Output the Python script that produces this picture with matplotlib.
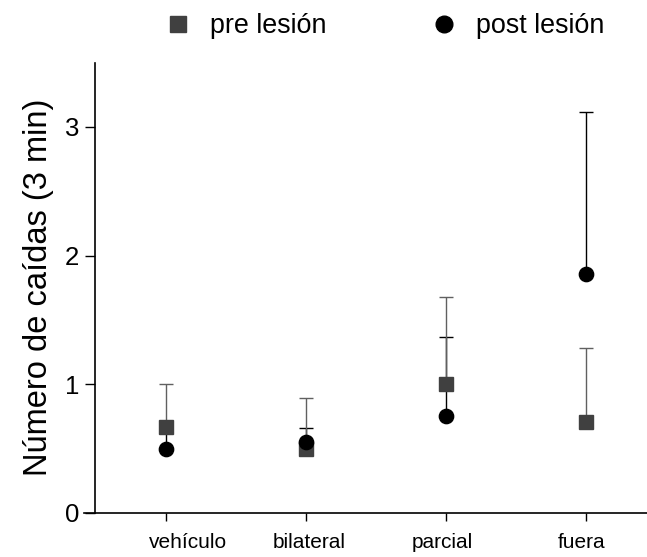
import numpy as np
import matplotlib
matplotlib.use("Agg")
import matplotlib.pyplot as plt
from matplotlib.lines import Line2D

plt.rcParams['font.family'] = ['Liberation Sans', 'DejaVu Sans']

grupos = ["vehículo", "bilateral", "parcial", "fuera"]
pre_media = [0.67, 0.50, 1.00, 0.71]
pre_sup = [1.00, 0.89, 1.68, 1.28]      # upper end of error bar
post_media = [0.50, 0.55, 0.75, 1.86]
post_sup = [0.67, 0.66, 1.37, 3.12]

x = np.arange(len(grupos))
pre_err = np.array(pre_sup) - np.array(pre_media)
post_err = np.array(post_sup) - np.array(post_media)

fig = plt.figure(figsize=(6.47, 5.57), dpi=100)
ax = fig.add_axes([84 / 647, 44 / 557, 563 / 647, 450.4 / 557])

# post bars first so the pre squares cover their caps
ax.errorbar(x, post_media, yerr=[np.zeros(4), post_err], fmt='none',
            ecolor='black', elinewidth=1, capsize=5, capthick=1, zorder=2)
ax.errorbar(x, pre_media, yerr=[np.zeros(4), pre_err], fmt='s', color='#404040',
            ecolor='#606060', elinewidth=1, capsize=5, capthick=1,
            markersize=9.4, zorder=3)
ax.plot(x, post_media, 'o', color='black', markersize=10.3, zorder=4)

ax.set_xlim(-0.586, 3.436)
ax.set_ylim(0, 3.5)
ax.set_yticks([0, 1, 2, 3])
ax.set_xticks(x)
ax.set_xticklabels([])
# labels in the original are not exactly centred under the ticks
shifts = [16, 2, -3, -3]
for xi, nombre, dx in zip(x, grupos, shifts):
    ax.annotate(nombre, xy=(xi, 0), xycoords=('data', 'axes fraction'),
                xytext=(dx, -14.5), textcoords='offset points',
                ha='center', va='top', fontsize=15)
ax.tick_params(axis='y', labelsize=18.5, length=7.2, width=1, pad=4)
ax.tick_params(axis='x', length=6, width=1)

ax.spines['top'].set_visible(False)
ax.spines['right'].set_visible(False)
ax.spines['left'].set_position(('axes', 11 / 563))
ax.spines['left'].set_linewidth(1.2)
ax.spines['bottom'].set_linewidth(1.2)

ax.set_ylabel("Número de caídas (3 min)", fontsize=23.5, labelpad=8)

handles = [
    Line2D([], [], marker='s', linestyle='none', color='#404040', markersize=11.5),
    Line2D([], [], marker='o', linestyle='none', color='black', markersize=12),
]
fig.legend(handles, ["pre lesión", "post lesión"], loc='center left',
           bbox_to_anchor=(164.5 / 647, 1 - 26 / 557), ncol=2, frameon=False,
           fontsize=19.4, borderpad=0, borderaxespad=0, handlelength=1,
           handletextpad=0.69, columnspacing=3.87)

fig.savefig("out.png", dpi=100)
